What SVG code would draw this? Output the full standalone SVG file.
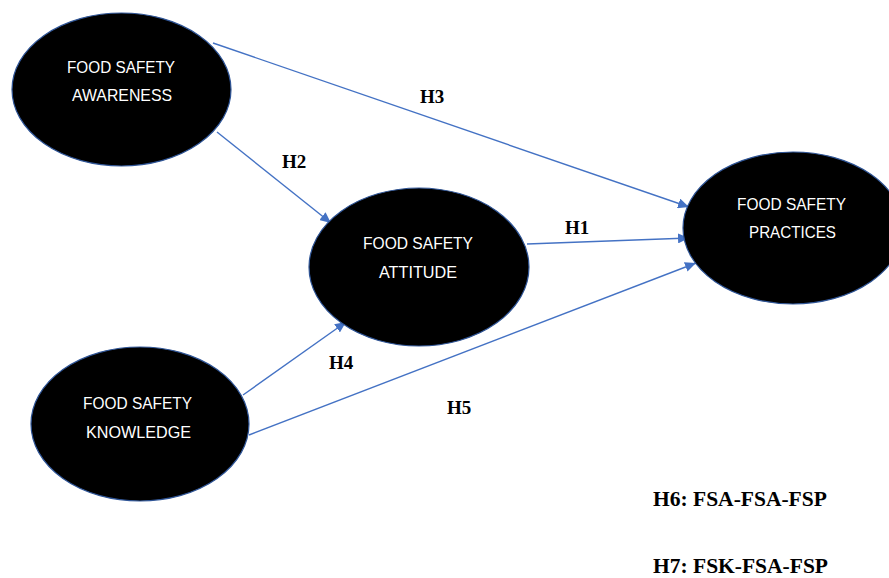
<svg xmlns="http://www.w3.org/2000/svg" width="889" height="578" viewBox="0 0 889 578">
<style>
.node{fill:#000;stroke:#2F5597;stroke-width:1.2}
.nt{fill:#fff;font-family:"Liberation Sans",Arial,sans-serif;font-size:17px;text-anchor:middle}
.edge{stroke:#4472C4;stroke-width:1.4;fill:none}
.hl{fill:#000;font-family:"Liberation Serif","Times New Roman",serif;font-weight:bold;font-size:19px}
.hn{fill:#000;font-family:"Liberation Serif","Times New Roman",serif;font-weight:bold;font-size:21.5px}
</style>
<defs>
<marker id="arr" markerUnits="userSpaceOnUse" markerWidth="12" markerHeight="10" refX="11" refY="5" orient="auto">
<path d="M0,0 L11,5 L0,10 Z" fill="#4472C4"/>
</marker>
</defs>
<rect width="889" height="578" fill="#fff"/>
<g id="connectors">
<line class="edge" x1="213" y1="43" x2="689" y2="207" marker-end="url(#arr)"/>
<line class="edge" x1="217" y1="132" x2="331" y2="223" marker-end="url(#arr)"/>
<line class="edge" x1="527" y1="244" x2="689" y2="238" marker-end="url(#arr)"/>
<line class="edge" x1="243" y1="395" x2="346" y2="322" marker-end="url(#arr)"/>
<line class="edge" x1="249" y1="435" x2="696" y2="263" marker-end="url(#arr)"/>
</g>
<g id="awareness">
<ellipse class="node" cx="121.5" cy="89.5" rx="109.5" ry="76.5"/>
<text class="nt" x="121" y="73" textLength="108" lengthAdjust="spacingAndGlyphs">FOOD SAFETY</text>
<text class="nt" x="122" y="101" textLength="100" lengthAdjust="spacingAndGlyphs">AWARENESS</text>
</g>
<g id="attitude">
<ellipse class="node" cx="419" cy="267" rx="110" ry="79"/>
<text class="nt" x="418" y="249" textLength="110" lengthAdjust="spacingAndGlyphs">FOOD SAFETY</text>
<text class="nt" x="418" y="278" textLength="78" lengthAdjust="spacingAndGlyphs">ATTITUDE</text>
</g>
<g id="practices">
<ellipse class="node" cx="793" cy="228" rx="110" ry="76"/>
<text class="nt" x="791.5" y="210" textLength="109" lengthAdjust="spacingAndGlyphs">FOOD SAFETY</text>
<text class="nt" x="792.5" y="238" textLength="87" lengthAdjust="spacingAndGlyphs">PRACTICES</text>
</g>
<g id="knowledge">
<ellipse class="node" cx="140" cy="424" rx="109" ry="77"/>
<text class="nt" x="137.5" y="409" textLength="109" lengthAdjust="spacingAndGlyphs">FOOD SAFETY</text>
<text class="nt" x="138.5" y="438" textLength="105" lengthAdjust="spacingAndGlyphs">KNOWLEDGE</text>
</g>
<g id="labels">
<text class="hl" x="420" y="103">H3</text>
<text class="hl" x="282" y="168">H2</text>
<text class="hl" x="565" y="234">H1</text>
<text class="hl" x="329" y="369">H4</text>
<text class="hl" x="447" y="414">H5</text>
<text class="hn" x="653" y="506">H6: FSA-FSA-FSP</text>
<text class="hn" x="653" y="573">H7: FSK-FSA-FSP</text>
</g>
</svg>
